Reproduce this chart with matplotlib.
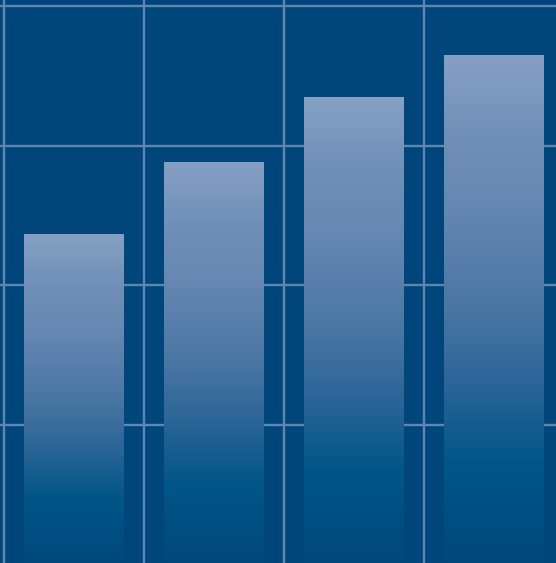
import numpy as np
import matplotlib.pyplot as plt
from matplotlib.colors import LinearSegmentedColormap

# Chart data
categories = ["Q1", "Q2", "Q3", "Q4"]
values = [2.37, 2.88, 3.35, 3.65]

BG = "#00467a"
GRID = "#5f86b3"

# bar fill: dark blue at the base, pale steel blue at the top
cmap = LinearSegmentedColormap.from_list("bar", [
    (0.00, "#00487c"),
    (0.20, "#005688"),
    (0.35, "#2a6496"),
    (0.50, "#4a76a3"),
    (0.70, "#6587b1"),
    (0.85, "#7190b8"),
    (1.00, "#85a0c3"),
])

fig = plt.figure(figsize=(5.56, 5.63), dpi=100)
fig.patch.set_facecolor(BG)
ax = fig.add_axes([0, 0, 1, 1])
ax.set_facecolor(BG)

x = np.arange(len(categories))
bars = ax.bar(x, values, width=0.71, color="none", edgecolor="none", zorder=3)

grad = np.linspace(0, 1, 256).reshape(-1, 1)
for b in bars:
    x0, w, h = b.get_x(), b.get_width(), b.get_height()
    im = ax.imshow(grad, cmap=cmap, aspect="auto", origin="lower",
                   extent=(x0, x0 + w, 0, h), zorder=3)
    im.set_clip_path(b)

# grid at category boundaries
ax.set_xticks(np.arange(-0.5, len(categories) + 0.5, 1.0))
ax.set_yticks(np.arange(0, 5, 1))
ax.grid(True, color=GRID, linewidth=1.7)
ax.set_axisbelow(True)
ax.tick_params(length=0, labelbottom=False, labelleft=False)
for s in ax.spines.values():
    s.set_visible(False)

ax.set_xlim(-0.5 - 4 / 140, -0.5 + 552 / 140)
ax.set_ylim((564.5 - 563) / 139.6, 564.5 / 139.6)

fig.savefig("out.png", dpi=100, facecolor=BG)
